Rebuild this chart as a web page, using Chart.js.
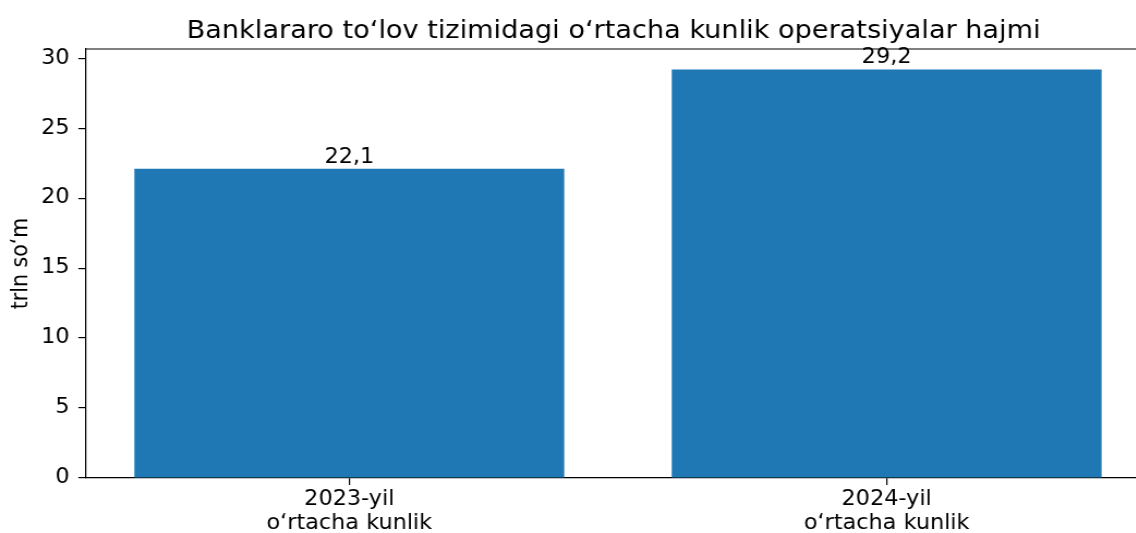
<!DOCTYPE html>
<html>
<head>
<meta charset="utf-8">
<script src="https://cdn.jsdelivr.net/npm/chart.js@4.4.0/dist/chart.umd.min.js"></script>
<style>
html,body{margin:0;padding:0;overflow:hidden;background:#fff;}
#wrap{position:relative;width:1066px;height:533px;transform:scaleX(1.09);transform-origin:0 0;}
</style>
</head>
<body>
<div id="wrap"><canvas id="c"></canvas></div>
<script>
const categories = [["2023-yil","o‘rtacha kunlik"],["2024-yil","o‘rtacha kunlik"]];
const values = [22.1, 29.2];
const valueLabels = ["22,1", "29,2"];
const yTicks = [0, 5, 10, 15, 20, 25, 30];
const titleText = "Banklararo to‘lov tizimidagi o‘rtacha kunlik operatsiyalar hajmi";
const yTitle = "trln so‘m";

const FONT = "'DejaVu Sans', sans-serif";

const decorations = {
  id: 'decorations',
  afterDraw(chart) {
    const {ctx, chartArea} = chart;
    ctx.save();
    ctx.strokeStyle = '#000';
    ctx.lineWidth = 1.2;
    ctx.beginPath();
    ctx.moveTo(chartArea.left, chartArea.top);
    ctx.lineTo(chartArea.right, chartArea.top);
    ctx.stroke();
    ctx.fillStyle = '#000';
    ctx.font = "24.9px " + FONT;
    ctx.textAlign = 'center';
    ctx.textBaseline = 'alphabetic';
    ctx.fillText(titleText, (chartArea.left + chartArea.right) / 2 - 4, 37.5);
    ctx.restore();
  }
};

const barLabels = {
  id: 'barLabels',
  afterDatasetsDraw(chart) {
    const {ctx} = chart;
    const meta = chart.getDatasetMeta(0);
    ctx.save();
    ctx.fillStyle = '#000';
    ctx.font = "20.5px " + FONT;
    ctx.textAlign = 'center';
    ctx.textBaseline = 'alphabetic';
    meta.data.forEach((bar, i) => {
      ctx.fillText(valueLabels[i], bar.x, bar.y - 6);
    });
    ctx.restore();
  }
};

new Chart(document.getElementById('c'), {
  type: 'bar',
  data: {
    datasets: [{
      data: values.map((v, i) => ({x: i, y: v})),
      backgroundColor: '#1f77b4',
      borderWidth: 0,
      categoryPercentage: 1.0,
      barPercentage: 0.8
    }]
  },
  options: {
    responsive: true,
    maintainAspectRatio: false,
    animation: false,
    layout: {padding: {left: 0, right: 11, top: 49, bottom: 0}},
    plugins: {
      legend: {display: false},
      tooltip: {enabled: false},
      title: {display: false}
    },
    scales: {
      x: {
        type: 'linear',
        min: -0.49,
        max: 1.49,
        offset: false,
        afterBuildTicks(scale) { scale.ticks = categories.map((c, i) => ({value: i})); },
        afterFit(scale) { scale.height = 55; },
        ticks: {
          autoSkip: false,
          maxRotation: 0,
          color: '#000',
          font: {family: FONT, size: 20.5, lineHeight: 1.17},
          padding: 3,
          callback: (v) => categories[v]
        },
        grid: {display: true, offset: false, drawOnChartArea: false, drawTicks: true, tickLength: 7, color: '#000', lineWidth: 1.2},
        border: {display: true, color: '#000', width: 1.2}
      },
      y: {
        min: 0,
        max: 30.66,
        afterBuildTicks(scale) { scale.ticks = yTicks.map(v => ({value: v})); },
        afterFit(scale) { scale.width = 78.9; },
        ticks: {
          color: '#000',
          font: {family: FONT, size: 20.5},
          padding: 8,
          includeBounds: false
        },
        title: {
          display: true,
          text: yTitle,
          color: '#000',
          font: {family: FONT, size: 20.5},
          padding: {top: 7, bottom: 4}
        },
        grid: {display: true, drawOnChartArea: false, drawTicks: true, tickLength: 7, color: '#000', lineWidth: 1.2},
        border: {display: true, color: '#000', width: 1.2}
      }
    }
  },
  plugins: [decorations, barLabels]
});
</script>
</body>
</html>
